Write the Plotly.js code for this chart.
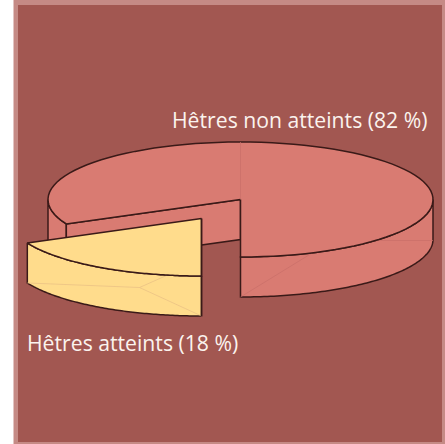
<!DOCTYPE html>
<html><head><meta charset="utf-8">
<script src="https://cdn.plot.ly/plotly-3.0.1.min.js"></script>
<style>html,body{margin:0;padding:0;background:#fff}#c{width:445px;height:444px}</style>
</head><body><div id="c"></div>
<script>
// Data
const categories = ["Hêtres non atteints", "Hêtres atteints"];
const values = [82, 18];
const sliceColors = ["#D97B72", "#FFDC8C"];
const faintColors = ["#C96F68", "#E8BE84"];

// Pie geometry, in pixels of the axes
const cx = 240.5, cy = 199.5, rx = 192.5, ry = 57.5, depth = 40;
const exploded = [-39, 19];
const edge = "#3A1A18";

const sweep = 360 * values[1] / (values[0] + values[1]);
const rad = d => d * Math.PI / 180;
function pt(deg, ox, oy, dz) {
  return [cx + ox + rx * Math.sin(rad(deg)), cy + oy - ry * Math.cos(rad(deg)) + (dz || 0)];
}
function arc(a, b, ox, oy, dz) {
  const out = [], n = 90;
  for (let i = 0; i <= n; i++) out.push(pt(a + (b - a) * i / n, ox, oy, dz));
  return out;
}
function poly(points, fill, width, color) {
  return {
    type: "scatter", mode: "lines", hoverinfo: "skip", showlegend: false,
    x: points.map(p => p[0]), y: points.map(p => p[1]),
    fill: fill ? "toself" : "none", fillcolor: fill || undefined,
    line: {color: color || edge, width: width === undefined ? 1.5 : width, simplify: false}
  };
}
function closed(p) { return p.concat([p[0]]); }

const sAngle = 180 + sweep;           // boundary between the two slices
const [ox, oy] = exploded;
const traces = [];

// non-affected slice: outer walls
traces.push(poly(closed(arc(90, 180, 0, 0).concat(arc(180, 90, 0, 0, depth))), sliceColors[0]));
traces.push(poly(closed(arc(sAngle, 270, 0, 0).concat(arc(270, sAngle, 0, 0, depth))), sliceColors[0]));
// faint facet lines on wall
traces.push(poly([pt(180, 0, 0, depth), [cx + 92, cy + depth + 1], pt(90, 0, 0, depth + 1)], null, 0.7, faintColors[0]));
// inner wall
traces.push(poly(closed([[cx, cy], pt(sAngle, 0, 0), pt(sAngle, 0, 0, depth), [cx, cy + depth]]), sliceColors[0]));
// top face
traces.push(poly(closed([[cx, cy]].concat(arc(sAngle, 540, 0, 0))), sliceColors[0]));
traces.push(poly([[cx, cy], pt(0, 0, 0)], null, 0.7, faintColors[0]));

// affected slice, pulled out: wall
traces.push(poly(closed(arc(180, sAngle, ox, oy).concat(arc(sAngle, 180, ox, oy, depth))), sliceColors[1]));
// faint facets
const kink = [cx + ox - 62, cy + oy + 69];
traces.push(poly([pt(sAngle, ox, oy, depth), kink, [kink[0] + 27, kink[1] - 12]], null, 0.7, faintColors[1]));
traces.push(poly([kink, pt(180, ox, oy, depth)], null, 0.7, faintColors[1]));
// top face
traces.push(poly(closed([[cx + ox, cy + oy]].concat(arc(180, sAngle, ox, oy))), sliceColors[1]));
// right edge
traces.push(poly([[cx + ox, cy + oy], pt(180, ox, oy, depth)], null, 1.5));

const font = {family: "'Open Sans', 'Noto Sans', sans-serif", size: 21.2, color: "#FBF3EE"};
const layout = {
  width: 445, height: 444,
  margin: {l: 0, r: 0, t: 0, b: 0},
  paper_bgcolor: "#FFFFFF", plot_bgcolor: "#FFFFFF",
  showlegend: false,
  xaxis: {range: [0, 445], visible: false, fixedrange: true},
  yaxis: {range: [444, 0], visible: false, fixedrange: true},
  shapes: [
    {type: "rect", layer: "below", x0: 13.5, x1: 445, y0: 0, y1: 444, line: {width: 0}, fillcolor: "#C58A85"},
    {type: "rect", layer: "below", x0: 18, x1: 442, y0: 5, y1: 442, line: {width: 0}, fillcolor: "#A25751"}
  ],
  annotations: [
    {x: 429, y: 119, xanchor: "right", yanchor: "middle", showarrow: false, font,
     text: categories[0] + " (" + values[0] + " %)"},
    {x: 25, y: 342, xanchor: "left", yanchor: "middle", showarrow: false, font,
     text: categories[1] + " (" + values[1] + " %)"}
  ]
};
Plotly.newPlot("c", traces, layout, {displayModeBar: false, staticPlot: true});
</script></body></html>
